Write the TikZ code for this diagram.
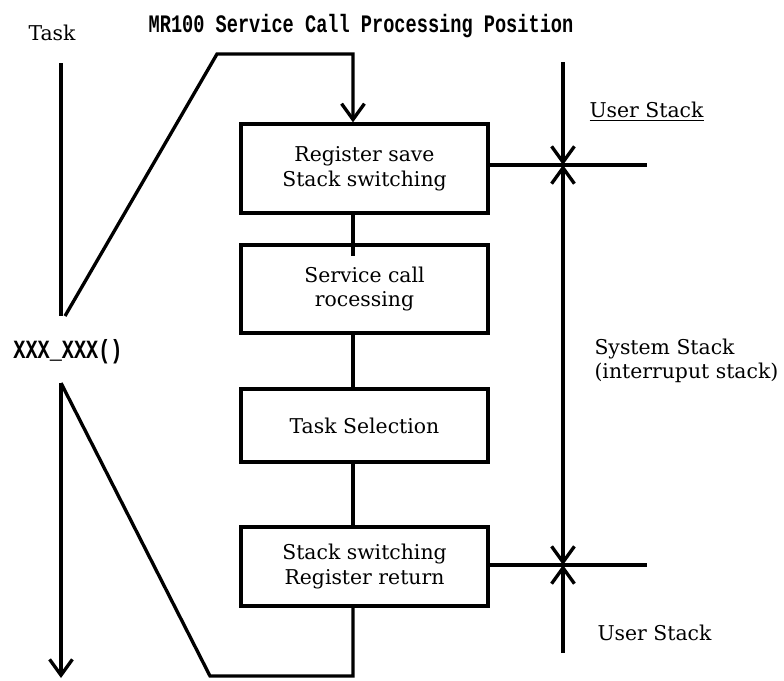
\documentclass[tikz,border=0pt]{standalone}
\usepackage{fontspec}
\setmainfont{DejaVu Serif}
\setmonofont{Liberation Mono}
\usetikzlibrary{arrows.meta}
\begin{document}
\begin{tikzpicture}[x=0.02cm,y=-0.02cm,line width=1.9pt,
  >={Straight Barb[length=9pt,width=13pt]},
  every node/.style={font=\fontsize{11.6}{14}\selectfont},
  proc/.style={draw,minimum width=4.94cm,align=center,inner sep=0pt},
  code/.style={font=\ttfamily\bfseries\fontsize{10.6}{12}\selectfont}]
\useasboundingbox (0,0) rectangle (784,680);
% labels
\node (task) at (52,33) {Task};
\node[code] (title) at (361,26) {\scalebox{1}[1.35]{MR100 Service Call Processing Position}};
\node[code,font=\ttfamily\bfseries\fontsize{11.5}{12}\selectfont] (call) at (68,352) {\scalebox{1}[1.3]{XXX\_XXX()}};
% the four processing steps
\node[proc,minimum height=1.78cm] (save) at (364.5,168.5) {Register save\\Stack switching};
\node[proc,minimum height=1.76cm] (service) at (364.5,289) {Service call\\rocessing};
\node[proc,minimum height=1.46cm] (select) at (364.5,425.5) {Task Selection};
\node[proc,minimum height=1.58cm] (restore) at (364.5,566.5) {Stack switching\\Register return};
% task flow
\coordinate (tasktop) at (61,63);
\coordinate (taskin) at (61,316);
\coordinate (taskout) at (61,383);
\coordinate (taskend) at (61,678);
\coordinate (flowin) at (217,54);
\coordinate (flowout) at (210,676);
\coordinate (entry) at (353,54);
\coordinate (exit) at (353,676);
\draw (tasktop) -- (taskin);
\draw[->] (taskout) -- (taskend);
\draw[->] (65,316) -- (flowin) -- (entry) -- (save.north -| entry);
\draw (save.south -| entry) -- (service.north -| entry) -- ++(0,13);
\draw (service.south -| entry) -- (select.north -| entry);
\draw (select.south -| entry) -- (restore.north -| entry);
\draw (restore.south -| exit) -- (exit) -- (flowout) -- (taskout);
% stacks
\coordinate (stacktop) at (563,62);
\coordinate (upper) at (563,165);
\coordinate (lower) at (563,565);
\coordinate (stackbot) at (563,653);
\coordinate (uend) at (647,165);
\coordinate (lend) at (647,565);
\draw[->] (stacktop) -- (upper);
\draw[<->] (upper) -- (lower);
\draw[->] (stackbot) -- (lower);
\draw (upper -| save.east) -- (uend);
\draw (lower -| restore.east) -- (lend);
\node (ustack) at (646.5,112) {\underline{User Stack}};
\node[align=left,anchor=west] (sstack) at (587,361) {System Stack\\(interruput stack)};
\node (lstack) at (654.5,633) {User Stack};
\end{tikzpicture}
\end{document}
